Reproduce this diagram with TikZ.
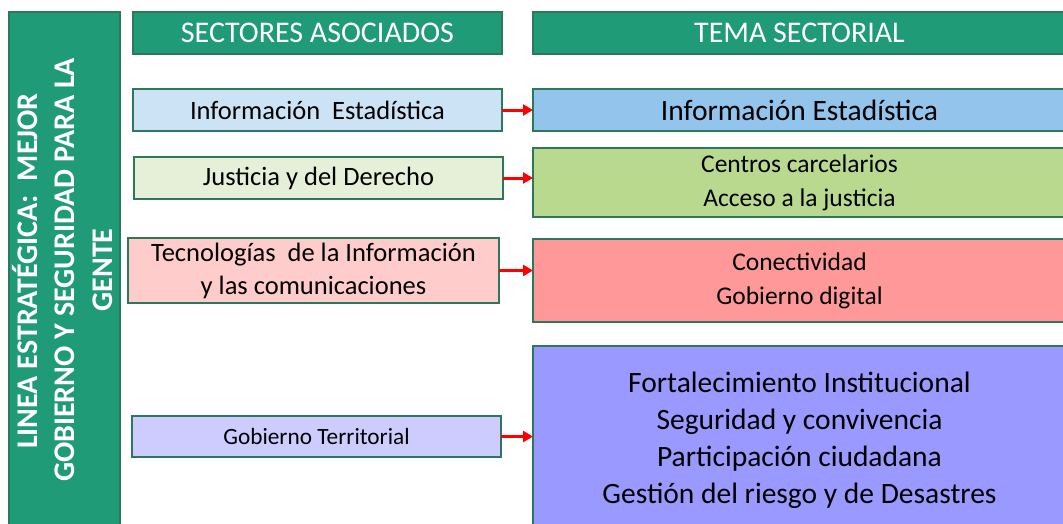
\documentclass[tikz,border=0pt]{standalone}
\usepackage{fontspec}
\setmainfont{Carlito}
\usetikzlibrary{arrows.meta}
\definecolor{hdr}{RGB}{31,155,119}
\definecolor{bord}{RGB}{44,120,92}
\definecolor{blueL}{RGB}{204,227,245}
\definecolor{blueD}{RGB}{146,196,236}
\definecolor{greenL}{RGB}{230,240,217}
\definecolor{greenD}{RGB}{185,217,143}
\definecolor{redL}{RGB}{255,204,204}
\definecolor{redD}{RGB}{255,153,153}
\definecolor{violL}{RGB}{204,204,255}
\definecolor{violD}{RGB}{153,153,255}
\begin{document}
\begin{tikzpicture}[x=1pt,y=-1pt,
  box/.style={draw=bord, line width=1.6pt, inner sep=0pt, outer sep=0pt, align=center, text=black},
  hdrbox/.style={box, fill=hdr, text=white, font=\fontsize{30}{36}\selectfont},
  lbox/.style={box, font=\fontsize{26.5}{33}\selectfont},
  rbox/.style={box, font=\fontsize{25.5}{34}\selectfont},
  bartext/.style={text=white, inner sep=0pt, font=\fontsize{30}{36}\selectfont\bfseries, rotate=90, anchor=base},
  link/.style={draw=red, line width=3pt, -{Triangle[length=10pt,width=11pt]}}
]
\useasboundingbox (0,0) rectangle (1063,523);
\clip (0,0) rectangle (1063,523);
% left vertical bar
\node[box, fill=hdr, minimum width=111pt, minimum height=528pt] (bar) at (64.5,276) {};
\node[bartext] (t1) at (37,271) {LINEA ESTRATÉGICA:~ MEJOR};
\node[bartext] (t2) at (74,270) {GOBIERNO Y SEGURIDAD PARA LA};
\node[bartext] (t3) at (112,270) {GENTE};
% headers
\node[hdrbox, minimum width=369pt, minimum height=42pt] (h1) at (317.5,33) {SECTORES ASOCIADOS};
\node[hdrbox, minimum width=533pt, minimum height=42pt] (h2) at (799.5,33) {TEMA SECTORIAL};
% left boxes
\node[lbox, fill=blueL, minimum width=369pt, minimum height=42pt] (l1) at (317.5,110) {Información~ Estadística};
\node[lbox, fill=greenL, minimum width=369pt, minimum height=42pt] (l2) at (318.5,178) {Justicia y del Derecho};
\node[lbox, fill=redL, minimum width=371pt, minimum height=65pt] (l3) at (313.5,270.5) {Tecnologías~ de la Información\\y las comunicaciones};
\node[box, font=\fontsize{23.3}{28}\selectfont, fill=violL, minimum width=369pt, minimum height=41pt] (l4) at (316.5,436.5) {Gobierno Territorial};
% right boxes
\node[box, font=\fontsize{29.5}{36}\selectfont, fill=blueD, minimum width=533pt, minimum height=42pt] (r1) at (799.5,110) {Información Estadística};
\node[rbox, fill=greenD, minimum width=533pt, minimum height=69pt] (r2) at (799.5,182.5) {Centros carcelarios\\Acceso a la justicia};
\node[rbox, fill=redD, minimum width=533pt, minimum height=83pt] (r3) at (799.5,280.5) {Conectividad\\Gobierno digital};
\node[box, font=\fontsize{29.5}{37}\selectfont, fill=violD, minimum width=533pt, minimum height=189pt] (r4) at (799.5,440.5) {Fortalecimiento Institucional\\Seguridad y convivencia\\Participación ciudadana\\Gestión del riesgo y de Desastres};
% connectors
\draw[link] (l1.east) -- (l1.east -| r1.west);
\draw[link] (l2.east) -- (l2.east -| r2.west);
\draw[link] (l3.east) -- (l3.east -| r3.west);
\draw[link] (l4.east) -- (l4.east -| r4.west);
\end{tikzpicture}
\end{document}
